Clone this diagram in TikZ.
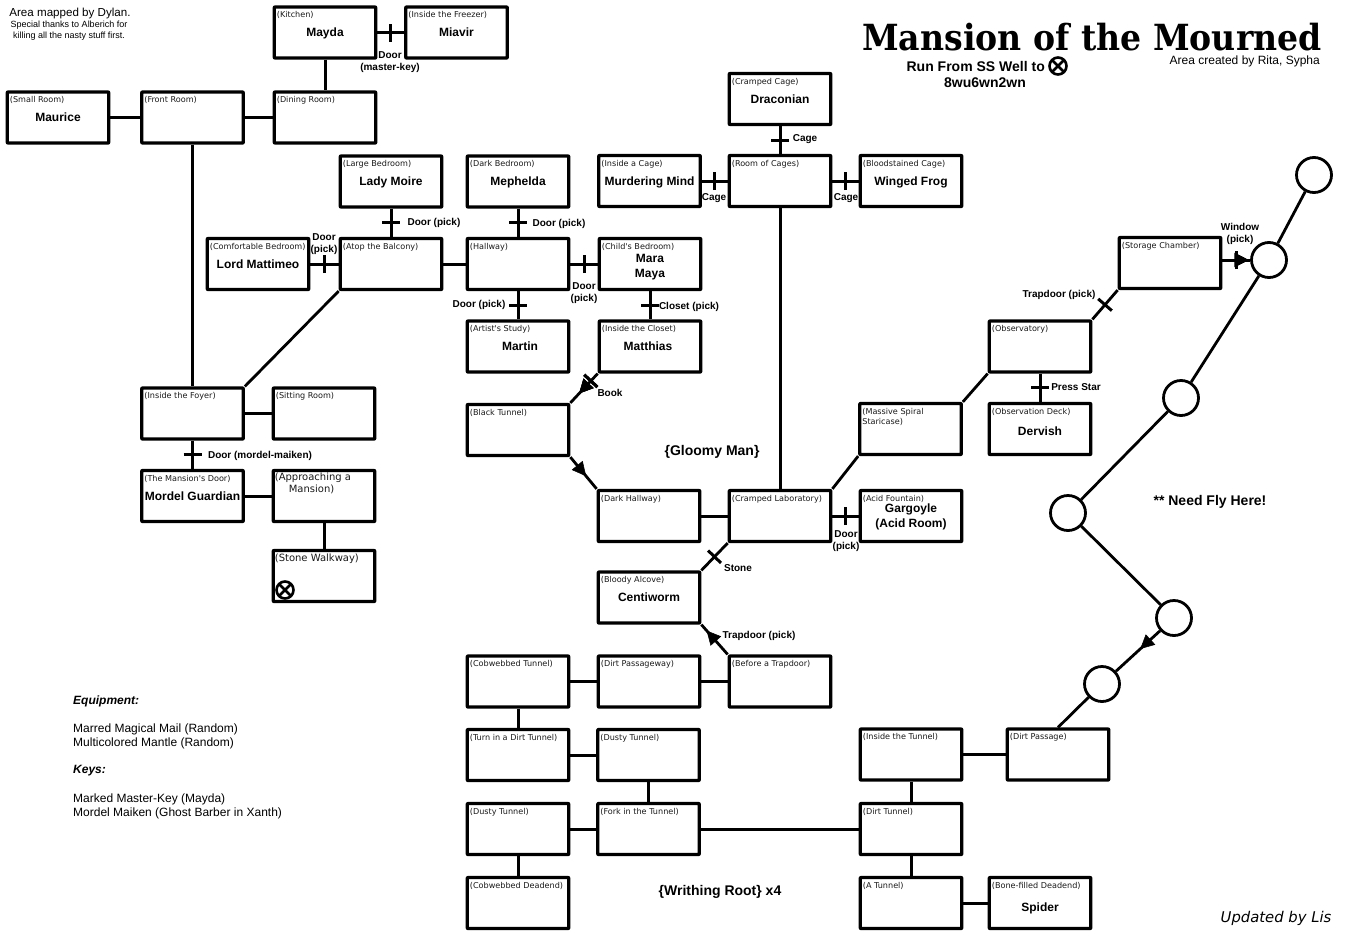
\documentclass[tikz,border=0pt]{standalone}
\usepackage{fontspec}
\usetikzlibrary{arrows.meta,decorations.markings}
\newfontfamily\labelfont{Liberation Sans}
\newfontfamily\tagfont{DejaVu Sans}
\newfontfamily\handfont{DejaVu Sans}
\newfontfamily\titlefont[FakeStretch=0.92]{DejaVu Serif}
\tikzset{
	room/.style={draw,line width=3.2pt,rounded corners=0.5pt,minimum width=101.5pt,minimum height=51pt,inner sep=0pt,align=center,
		text height=8.5pt,text depth=0pt,font=\labelfont\bfseries\fontsize{12}{14.5}\selectfont},
	tag/.style={anchor=north west,inner sep=0pt,align=left,font=\tagfont\fontsize{8.1}{10}\selectfont,text=black!90},
	bigtag/.style={anchor=north west,inner sep=0pt,align=left,font=\tagfont\fontsize{10}{12}\selectfont,text=black!90},
	area/.style={draw,circle,line width=2.8pt,minimum size=35pt,inner sep=0pt},
	link/.style={line width=3pt},
	thinlink/.style={line width=2.8pt},
	tick/.style={decoration={markings,mark=at position #1 with {\draw[line width=3pt] (0,-9pt)--(0,9pt);}},postaction=decorate},
	tick/.default=0.5,
	midarrow/.style={decoration={markings,mark=at position #1 with {\arrow[line width=0.5pt]{Triangle[length=14pt,width=14pt]}}},postaction=decorate},
	doorlabel/.style={yshift=-1.5pt,inner sep=0pt,align=center,font=\labelfont\bfseries\fontsize{10}{12}\selectfont},
	mobnote/.style={yshift=-2pt,inner sep=0pt,font=\labelfont\bfseries\fontsize{14}{16}\selectfont},
	notes/.style={yshift=-2pt,anchor=west,inner sep=0pt,font=\labelfont\fontsize{12}{14}\selectfont},
	noteshead/.style={notes,font=\labelfont\bfseries\itshape\fontsize{12}{14}\selectfont},
	wayx/.style={draw,circle,line width=2.6pt,minimum size=17pt,inner sep=0pt,
		path picture={\draw[line width=2.6pt] (path picture bounding box.north west)--(path picture bounding box.south east)
			(path picture bounding box.north east)--(path picture bounding box.south west);}}
}
\newcommand{\myroom}[5][]{%
	\node[room,#1] (#2) at (#3) {#5};
	\node[tag] (#2tag) at ([xshift=4pt,yshift=-6pt]#2.north west) {#4};
}
\begin{document}
\begin{tikzpicture}[x=1pt,y=-1pt,line join=round]
	\useasboundingbox (0,0) rectangle (1350,940);
	%==rooms, top left part
	\myroom{kitchen}{325,32.5}{(Kitchen)}{Mayda}
	\myroom{freezer}{456.5,32.5}{(Inside the Freezer)}{Miavir}
	\myroom{smallroom}{58,117.5}{(Small Room)}{Maurice}
	\myroom{frontroom}{192.5,117.5}{(Front Room)}{}
	\myroom{dining}{325,117.5}{(Dining Room)}{}
	\myroom{largebed}{391,181.5}{(Large Bedroom)}{Lady Moire}
	\myroom{darkbed}{518,181.5}{(Dark Bedroom)}{Mephelda}
	\myroom{comfybed}{258,264}{(Comfortable Bedroom)}{Lord Mattimeo}
	\myroom{balcony}{391,264}{(Atop the Balcony)}{}
	\myroom{hallway}{518,264}{(Hallway)}{}
	\myroom[text height=26.5pt]{childbed}{650,264}{(Child's Bedroom)}{Mara\\Maya}
	\myroom{study}{518,346.5}{(Artist's Study)}{\hspace*{4pt}Martin}
	\myroom{closet}{650,346.5}{(Inside the Closet)}{Matthias\hspace*{4pt}}
	\myroom{foyer}{192.5,413.5}{(Inside the Foyer)}{}
	\myroom{sitting}{324,413.5}{(Sitting Room)}{}
	\myroom{mansiondoor}{192.5,496}{(The Mansion's Door)}{Mordel Guardian}
	\node[room] (approach) at (324,496) {};
	\node[bigtag] (approachtag) at ([xshift=3pt,yshift=-4pt]approach.north west) {(Approaching a\\\hspace*{14pt}Mansion)};
	\node[room] (walkway) at (324,576) {};
	\node[bigtag] (walkwaytag) at ([xshift=3pt,yshift=-5pt]walkway.north west) {(Stone Walkway)};
	\node[wayx] (walkwayx) at (285,590) {};
	%==rooms, middle part
	\myroom{insidecage}{649.5,181}{(Inside a Cage)}{Murdering Mind}
	\myroom{cages}{780,181}{(Room of Cages)}{}
	\myroom{bloodcage}{911,181}{(Bloodstained Cage)}{Winged Frog}
	\myroom{crampedcage}{780,99}{(Cramped Cage)}{Draconian}
	\myroom{blacktunnel}{518,430}{(Black Tunnel)}{}
	\myroom{darkhall}{649,516}{(Dark Hallway)}{}
	\myroom{lab}{780,516}{(Cramped Laboratory)}{}
	\myroom[text height=22.5pt]{acid}{911,516}{(Acid Fountain)}{Gargoyle\\(Acid Room)}
	\myroom{alcove}{649,597.5}{(Bloody Alcove)}{Centiworm}
	\myroom{spiral}{910.5,429}{(Massive Spiral\\Staricase)}{}
	\myroom{observatory}{1040,346.5}{(Observatory)}{}
	\myroom{obsdeck}{1040,429}{(Observation Deck)}{\raisebox{-2pt}{Dervish}}
	\myroom{storage}{1170,263}{(Storage Chamber)}{}
	%==rooms, tunnels
	\myroom{cobtunnel}{518,681.5}{(Cobwebbed Tunnel)}{}
	\myroom{dirtway}{649,681.5}{(Dirt Passageway)}{}
	\myroom{beforetrap}{780,681.5}{(Before a Trapdoor)}{}
	\myroom{turn}{518,755}{(Turn in a Dirt Tunnel)}{}
	\myroom{dustya}{648.5,755}{(Dusty Tunnel)}{}
	\myroom{dustyb}{518,829}{(Dusty Tunnel)}{}
	\myroom{fork}{648.5,829}{(Fork in the Tunnel)}{}
	\myroom{deadend}{518,903}{(Cobwebbed Deadend)}{}
	\myroom{insidetunnel}{911,754.5}{(Inside the Tunnel)}{}
	\myroom{dirtpassage}{1058,754.5}{(Dirt Passage)}{}
	\myroom{dirttunnel}{911,829}{(Dirt Tunnel)}{}
	\myroom{atunnel}{911,903}{(A Tunnel)}{}
	\myroom{bonedead}{1040,903}{(Bone-filled Deadend)}{\raisebox{-4pt}{Spider}}
	%==fly path
	\node[area] (flya) at (1314,175) {};
	\node[area] (flyb) at (1269,260) {};
	\node[area] (flyc) at (1181,398) {};
	\node[area] (flyd) at (1068,513) {};
	\node[area] (flye) at (1174,618) {};
	\node[area] (flyf) at (1102,684) {};
	%==connectors
	\draw[link,tick] (kitchen)--(freezer);
	\draw[link] (kitchen)--(dining);
	\draw[link] (smallroom)--(frontroom);
	\draw[link] (frontroom)--(dining);
	\draw[thinlink] (frontroom)--(foyer);
	\draw[link,tick] (largebed)--(balcony);
	\draw[link,tick] (darkbed)--(hallway);
	\draw[link,tick] (comfybed)--(balcony);
	\draw[link] (balcony)--(hallway);
	\draw[link,tick] (hallway)--(childbed);
	\draw[link,tick] (hallway)--(study);
	\draw[link,tick] (childbed)--(closet);
	\draw[thinlink] (balcony.south west)--(foyer.north east);
	\draw[link] (foyer)--(sitting);
	\draw[link,tick] (foyer)--(mansiondoor);
	\draw[link] (mansiondoor)--(approach);
	\draw[link] (approach)--(walkway);
	\draw[link,tick] (insidecage)--(cages);
	\draw[link,tick] (cages)--(bloodcage);
	\draw[link,tick] (crampedcage)--(cages);
	\draw[link] (cages)--(lab);
	\draw[thinlink,tick=0.25,midarrow=0.68] (closet.south west)--(blacktunnel.north east);
	\draw[thinlink,midarrow=0.6] (blacktunnel.south east)--(darkhall.north west);
	\draw[link] (darkhall)--(lab);
	\draw[link,tick] (lab)--(acid);
	\draw[thinlink,tick] (lab.south west)--(alcove.north east);
	\draw[thinlink,midarrow=0.8] (beforetrap.north west)--(alcove.south east);
	\draw[thinlink] (lab.north east)--(spiral.south west);
	\draw[thinlink] (spiral.north east)--(observatory.south west);
	\draw[link,tick] (observatory)--(obsdeck);
	\draw[thinlink,tick] (observatory.north east)--(storage.south west);
	\draw[link] (cobtunnel)--(dirtway);
	\draw[link] (dirtway)--(beforetrap);
	\draw[link] (cobtunnel)--(turn);
	\draw[link] (turn)--(dustya);
	\draw[link] (dustya)--(fork);
	\draw[link] (dustyb)--(fork);
	\draw[link] (dustyb)--(deadend);
	\draw[link] (fork)--(dirttunnel);
	\draw[link] (insidetunnel)--(dirtpassage);
	\draw[link] (insidetunnel)--(dirttunnel);
	\draw[link] (dirttunnel)--(atunnel);
	\draw[link] (atunnel)--(bonedead);
	\draw[link,tick=0.5,midarrow=0.95] (storage.east |- flyb.west)--(flyb.west);
	\draw[thinlink] (flya)--(flyb);
	\draw[thinlink] (flyb)--(flyc);
	\draw[thinlink] (flyc)--(flyd);
	\draw[thinlink] (flyd)--(flye);
	\draw[thinlink,midarrow=0.45] (flye)--(flyf);
	\draw[thinlink] (flyf)--(dirtpassage.north);
	%==connector labels
	\node[doorlabel] (masterdoor) at (390,61) {Door\\(master-key)};
	\node[doorlabel] (moiredoor) at (434,221) {Door (pick)};
	\node[doorlabel] (mepheldadoor) at (559,222) {Door (pick)};
	\node[doorlabel] (cagea) at (714,197) {Cage};
	\node[doorlabel] (cageb) at (846,197) {Cage};
	\node[doorlabel] (cagec) at (805,138) {Cage};
	\node[doorlabel] (mattimeodoor) at (324,243) {Door\\(pick)};
	\node[doorlabel] (childdoor) at (584,292) {Door\\(pick)};
	\node[doorlabel] (studydoor) at (479,303) {Door (pick)};
	\node[doorlabel] (closetdoor) at (689,305) {Closet (pick)};
	\node[doorlabel] (book) at (610,391) {Book};
	\node[doorlabel] (mordeldoor) at (260,454) {Door (mordel-maiken)};
	\node[doorlabel] (stone) at (738,567) {Stone};
	\node[doorlabel] (aciddoor) at (846,540) {Door\\(pick)};
	\node[doorlabel] (trapa) at (759,634) {Trapdoor (pick)};
	\node[doorlabel] (trapb) at (1059,293) {Trapdoor (pick)};
	\node[doorlabel] (window) at (1240,232) {Window\\(pick)};
	\node[doorlabel] (pressstar) at (1076,386) {Press Star};
	%==notes
	\node[mobnote] (gloomy) at (712,450) {\{Gloomy Man\}};
	\node[mobnote] (writhing) at (720,890) {\{Writhing Root\} x4};
	\node[mobnote] (needfly) at (1210,500) {** Need Fly Here!};
	\node[inner sep=0pt,font=\titlefont\bfseries\fontsize{36}{36}\selectfont] (title) at (1092,37) {Mansion of the Mourned};
	\node[anchor=east,inner sep=0pt,font=\labelfont\fontsize{12}{14}\selectfont] (credit) at (1320,61) {Area created by Rita, Sypha};
	\node[mobnote,anchor=east] (runfrom) at (1045,64) {Run From SS Well to};
	\node[wayx] (runx) at (1058,66) {};
	\node[mobnote] (runpath) at (985,81) {8wu6wn2wn};
	\node[inner sep=0pt,font=\labelfont\fontsize{11.6}{13}\selectfont] (mapped) at (70,13) {Area mapped by Dylan.};
	\node[inner sep=0pt,align=center,font=\labelfont\fontsize{9}{11}\selectfont] (thanks) at (69,31) {Special thanks to Alberich for\\killing all the nasty stuff first.};
	\node[noteshead] (equiphead) at (73,699) {Equipment:};
	\node[notes] (equipa) at (73,727) {Marred Magical Mail (Random)};
	\node[notes] (equipb) at (73,741) {Multicolored Mantle (Random)};
	\node[noteshead] (keyhead) at (73,769) {Keys:};
	\node[notes] (keya) at (73,797) {Marked Master-Key (Mayda)};
	\node[notes] (keyb) at (73,811) {Mordel Maiken (Ghost Barber in Xanth)};
	\node[inner sep=0pt,font=\handfont\itshape\fontsize{14.8}{16}\selectfont] (updated) at (1276,918) {Updated by Lis};
\end{tikzpicture}
\end{document}
